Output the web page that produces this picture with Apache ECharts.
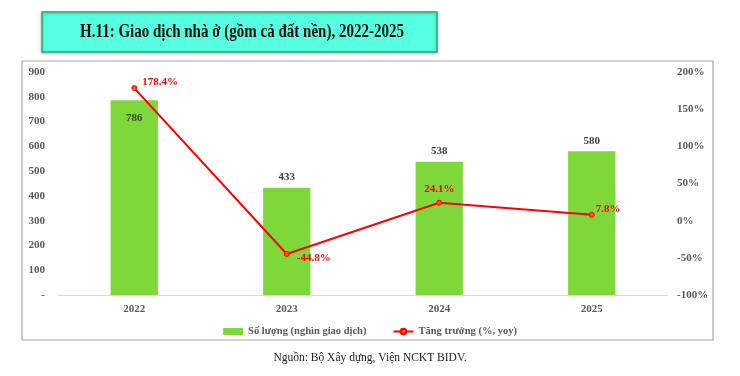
<!DOCTYPE html>
<html>
<head>
<meta charset="utf-8">
<script src="https://cdn.jsdelivr.net/npm/echarts@6/dist/echarts.min.js"></script>
<style>
  html, body { margin: 0; padding: 0; background: #fff; }
  #main { width: 740px; height: 376px; }
</style>
</head>
<body>
<div id="main"></div>
<script>
var years = ['2022', '2023', '2024', '2025'];
var soLuong = [786, 433, 538, 580];
var tangTruong = [178.4, -44.8, 24.1, 7.8];

var serif = '"Liberation Serif", "DejaVu Serif", serif';
var myChart = echarts.init(document.getElementById('main'));

var option = {
    backgroundColor: '#fff',
    animation: false,
    graphic: [
        {
            type: 'rect',
            shape: { x: 22, y: 61, width: 691, height: 279 },
            style: { fill: 'none', stroke: '#a6a6a6', lineWidth: 1.2 }
        },
        {
            type: 'rect',
            shape: { x: 42, y: 12, width: 395, height: 40 },
            style: { fill: '#55ffe0', stroke: '#2aa774', lineWidth: 1.5, shadowBlur: 3, shadowColor: 'rgba(0,0,0,0.25)', shadowOffsetY: 1 }
        },
        {
            type: 'text',
            x: 242, y: 32,
            scaleX: 0.79,
            style: {
                text: 'H.11: Giao dịch nhà ở (gồm cả đất nền), 2022-2025',
                font: 'bold 19px ' + serif,
                fill: '#111',
                align: 'center',
                verticalAlign: 'middle'
            }
        },
        {
            type: 'text',
            x: 370, y: 358,
            style: {
                text: 'Nguồn: Bộ Xây dựng, Viện NCKT BIDV.',
                font: '11.5px ' + serif,
                fill: '#222',
                align: 'center',
                verticalAlign: 'middle'
            }
        }
    ],
    legend: {
        top: 321,
        left: 'center',
        itemGap: 26,
        itemWidth: 20,
        itemHeight: 7,
        textStyle: { fontFamily: serif, fontWeight: 'bold', fontSize: 10.5, color: '#595959' },
        data: [
            { name: 'Số lượng (nghìn giao dịch)', icon: 'rect' },
            { name: 'Tăng trưởng (%, yoy)' }
        ]
    },
    grid: { left: 58, right: 72, top: 72, bottom: 81 },
    xAxis: {
        type: 'category',
        data: years,
        axisLine: { lineStyle: { color: '#d9d9d9' } },
        axisTick: { show: false },
        axisLabel: { fontFamily: serif, fontWeight: 'bold', fontSize: 11, color: '#595959', margin: 9 }
    },
    yAxis: [
        {
            type: 'value',
            min: 0, max: 900, interval: 100,
            splitLine: { show: false },
            axisLine: { show: false },
            axisLabel: {
                fontFamily: serif, fontWeight: 'bold', fontSize: 11, color: '#595959', margin: 13,
                formatter: function (v) { return v === 0 ? '-' : v; }
            }
        },
        {
            type: 'value',
            min: -100, max: 200, interval: 50,
            splitLine: { show: false },
            axisLine: { show: false },
            axisLabel: {
                fontFamily: serif, fontWeight: 'bold', fontSize: 11, color: '#595959', margin: 9,
                formatter: '{value}%'
            }
        }
    ],
    series: [
        {
            name: 'Số lượng (nghìn giao dịch)',
            type: 'bar',
            barWidth: '31%',
            itemStyle: { color: '#7ed83a' },
            label: {
                show: true,
                position: 'top',
                fontFamily: serif, fontWeight: 'bold', fontSize: 11, color: '#404040'
            },
            data: soLuong.map(function (v, i) {
                if (i === 0) {
                    return { value: v, label: { position: 'insideTop', distance: 12 } };
                }
                return v;
            })
        },
        {
            name: 'Tăng trưởng (%, yoy)',
            type: 'line',
            yAxisIndex: 1,
            symbol: 'circle',
            symbolSize: 5,
            lineStyle: { color: '#ff0000', width: 2 },
            itemStyle: { color: '#ff5a1a', borderColor: '#ff0000', borderWidth: 1 },
            label: {
                show: true,
                fontFamily: serif, fontWeight: 'bold', fontSize: 11, color: '#ff0000',
                formatter: function (p) { return p.value + '%'; }
            },
            data: tangTruong.map(function (v, i) {
                var pos = ['right', 'right', 'top', 'right'][i];
                var off = [[0, -6], [2, 4], [0, 0], [-4, -6]][i];
                return { value: v, label: { position: pos, offset: off } };
            })
        }
    ]
};

myChart.setOption(option);
</script>
</body>
</html>
